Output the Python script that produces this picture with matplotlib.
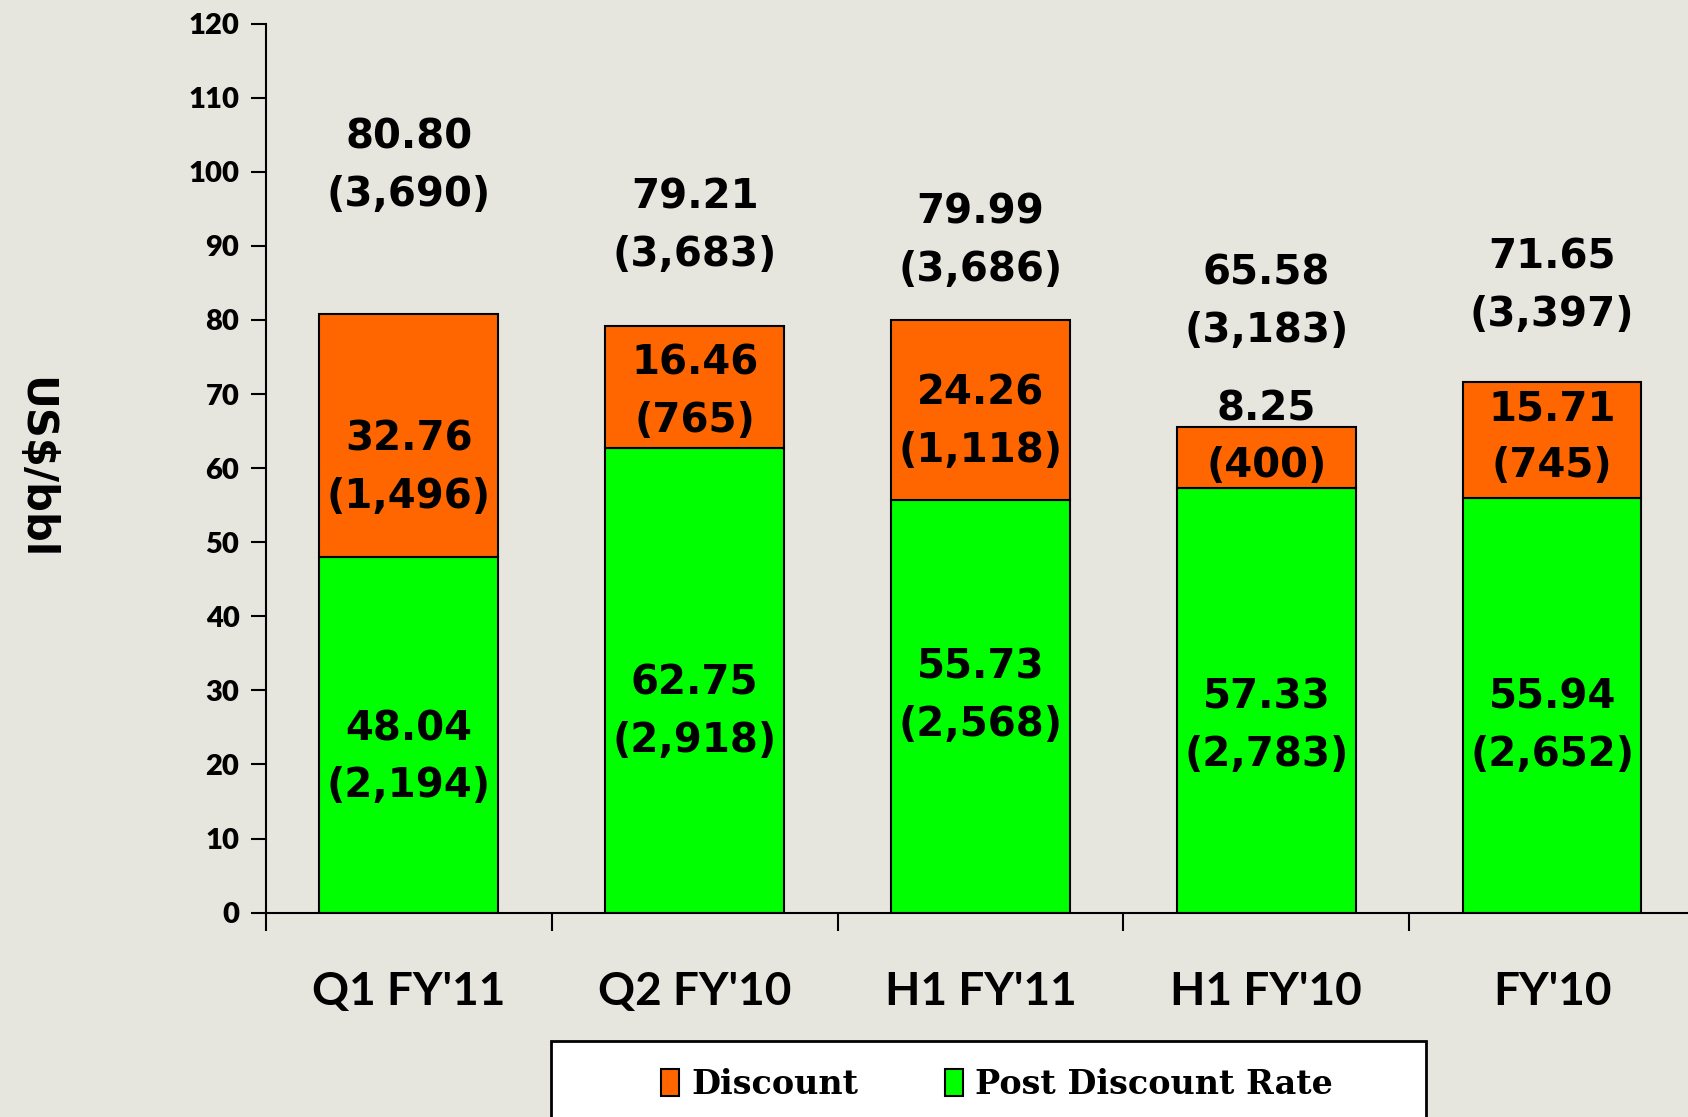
import matplotlib
matplotlib.use('Agg')
import matplotlib.pyplot as plt
from matplotlib.patches import Rectangle, Patch

# data
categories = ["Q1 FY'11", "Q2 FY'10", "H1 FY'11", "H1 FY'10", "FY'10"]
post_discount = [48.04, 62.75, 55.73, 57.33, 55.94]
discount = [32.76, 16.46, 24.26, 8.25, 15.71]
total = [80.80, 79.21, 79.99, 65.58, 71.65]
post_inr = ['(2,194)', '(2,918)', '(2,568)', '(2,783)', '(2,652)']
discount_inr = ['(1,496)', '(765)', '(1,118)', '(400)', '(745)']
total_inr = ['(3,690)', '(3,683)', '(3,686)', '(3,183)', '(3,397)']

# label centre heights (layout, in axis units)
total_label_y = [100.8, 92.6, 90.6, 82.4, 84.5]
discount_label_y = [60.0, 70.2, 66.2, 64.1, 64.1]
post_label_y = [20.9, 27.1, 29.2, 25.1, 25.1]

bg = '#e6e6de'
orange = '#ff6600'
green = '#00ff00'

fig = plt.figure(figsize=(16.88, 11.17), dpi=100, facecolor=bg)
ax = fig.add_axes([0.1575, 0.183, 0.8467, 0.7958])
ax.set_facecolor(bg)

x = list(range(len(categories)))
width = 0.625
ax.bar(x, post_discount, width, color=green, edgecolor='black', linewidth=1.5, zorder=2)
ax.bar(x, discount, width, bottom=post_discount, color=orange, edgecolor='black',
       linewidth=1.5, zorder=2)

lab_font = dict(family='DejaVu Sans', fontweight='bold', fontsize=29,
                ha='center', va='center', linespacing=1.56, zorder=3)
for i in x:
    ax.text(i, total_label_y[i], f'{total[i]:.2f}\n{total_inr[i]}', **lab_font)
    ax.text(i, discount_label_y[i], f'{discount[i]:.2f}\n{discount_inr[i]}', **lab_font)
    ax.text(i, post_label_y[i], f'{post_discount[i]:.2f}\n{post_inr[i]}', **lab_font)

ax.set_ylim(0, 120)
ax.set_xlim(-0.5, 4.5)
ax.set_yticks(range(0, 121, 10))
ax.set_xticks(x)
ax.set_xticklabels(categories)
ax.set_xticks([i - 0.5 for i in range(len(categories) + 1)], minor=True)
ax.tick_params(axis='x', which='major', length=0, pad=42)
ax.tick_params(axis='x', which='minor', length=13, width=1.5, direction='out')
ax.tick_params(axis='y', length=11, width=1.5, direction='out', pad=8)
for lbl in ax.get_yticklabels():
    lbl.set_fontfamily('Lato')
    lbl.set_fontweight('heavy')
    lbl.set_fontsize(21)
for lbl in ax.get_xticklabels():
    lbl.set_fontfamily('Lato')
    lbl.set_fontweight('bold')
    lbl.set_fontsize(33)

for s in ['top', 'right']:
    ax.spines[s].set_visible(False)
for s in ['left', 'bottom']:
    ax.spines[s].set_linewidth(1.5)

fig.text(33 / 1568, 1 - 435 / 1038, 'US$/bbl', rotation=270, ha='center', va='center',
         fontsize=30, fontweight='bold', family='DejaVu Sans')

# legend box
fig.patches.append(Rectangle((512 / 1568, -0.02), 813 / 1568, 0.02 + 1 - 967 / 1038,
                             transform=fig.transFigure, facecolor='white',
                             edgecolor='black', linewidth=2, zorder=1))
handles = [Patch(facecolor=orange, edgecolor='black', linewidth=1.5, label='Discount'),
           Patch(facecolor=green, edgecolor='black', linewidth=1.5, label='Post Discount Rate')]
fig.legend(handles=handles, loc='center', bbox_to_anchor=(926 / 1568, 1 - 1008 / 1038),
           ncol=2, frameon=False, handlelength=0.55, handleheight=0.85, handletextpad=0.35,
           columnspacing=2.6, prop=dict(family='DejaVu Serif', weight='bold', size=24))

fig.savefig('out.png', dpi=100, facecolor=bg)
